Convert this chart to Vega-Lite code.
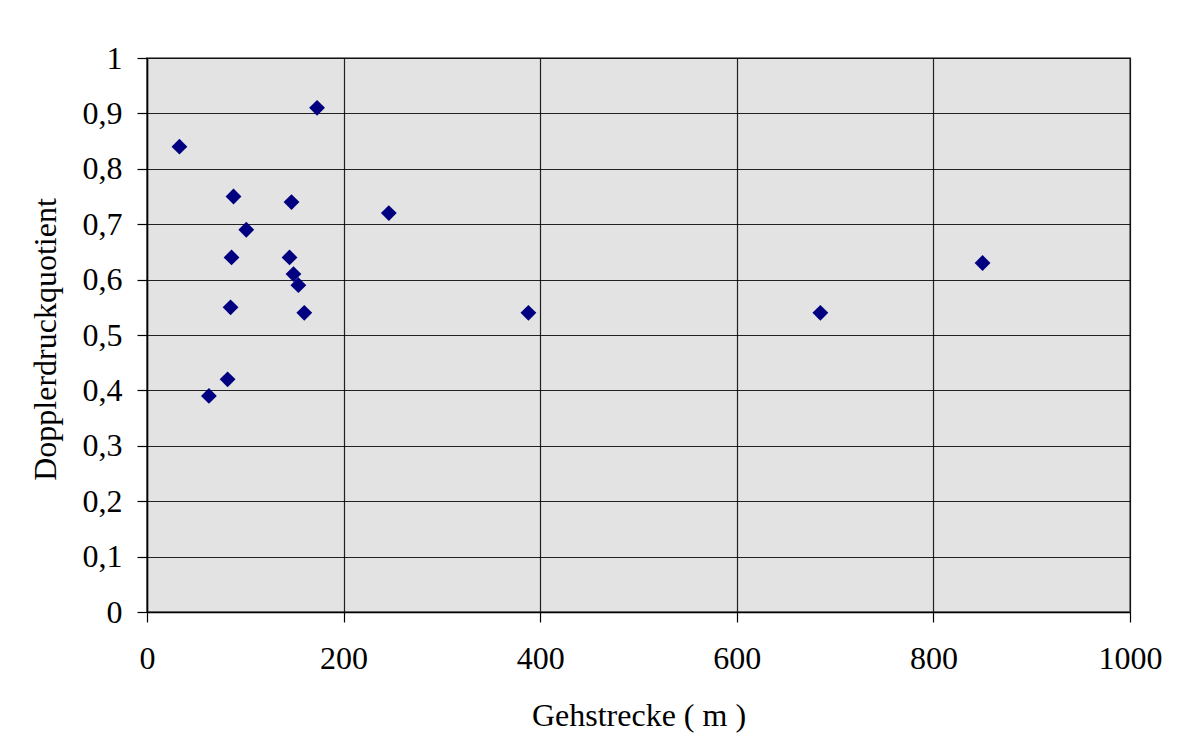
{
  "$schema": "https://vega.github.io/schema/vega-lite/v6.json",
  "autosize": {"type": "none"},
  "width": 983,
  "height": 554,
  "padding": {"left": 147, "top": 58, "right": 55, "bottom": 140},
  "background": "#ffffff",
  "config": {
    "font": "Liberation Serif",
    "view": {"fill": "#e3e3e3", "stroke": "#808080", "strokeWidth": 2},
    "axis": {
      "labelFont": "Liberation Serif",
      "titleFont": "Liberation Serif",
      "labelFontSize": 32,
      "titleFontSize": 32,
      "labelColor": "#000000",
      "titleColor": "#000000",
      "titleFontWeight": "normal",
      "domainColor": "#000000",
      "domainWidth": 1.5,
      "tickColor": "#000000",
      "tickSize": 10,
      "tickWidth": 1.2,
      "gridColor": "#000000",
      "gridOpacity": 0.85,
      "gridWidth": 1.2
    }
  },
  "data": {
    "values": [
      {"gehstrecke": 33, "quotient": 0.84},
      {"gehstrecke": 63, "quotient": 0.39},
      {"gehstrecke": 82, "quotient": 0.42},
      {"gehstrecke": 85, "quotient": 0.55},
      {"gehstrecke": 86, "quotient": 0.64},
      {"gehstrecke": 88, "quotient": 0.75},
      {"gehstrecke": 101, "quotient": 0.69},
      {"gehstrecke": 145, "quotient": 0.64},
      {"gehstrecke": 147, "quotient": 0.74},
      {"gehstrecke": 149, "quotient": 0.61},
      {"gehstrecke": 154, "quotient": 0.59},
      {"gehstrecke": 160, "quotient": 0.54},
      {"gehstrecke": 173, "quotient": 0.91},
      {"gehstrecke": 246, "quotient": 0.72},
      {"gehstrecke": 388, "quotient": 0.54},
      {"gehstrecke": 685, "quotient": 0.54},
      {"gehstrecke": 850, "quotient": 0.63}
    ]
  },
  "mark": {"type": "point", "shape": "diamond", "filled": true, "color": "#000080", "opacity": 1, "size": 250},
  "encoding": {
    "x": {
      "field": "gehstrecke",
      "type": "quantitative",
      "scale": {"domain": [0, 1000], "nice": false, "zero": true},
      "axis": {
        "title": "Gehstrecke ( m )",
        "values": [0, 200, 400, 600, 800, 1000],
        "format": "d",
        "labelBaseline": "alphabetic",
        "labelPadding": 46,
        "labelFlush": false,
        "titleBaseline": "alphabetic",
        "titleY": 113
      }
    },
    "y": {
      "field": "quotient",
      "type": "quantitative",
      "scale": {"domain": [0, 1], "nice": false},
      "axis": {
        "title": "Dopplerdruckquotient",
        "values": [0, 0.1, 0.2, 0.3, 0.4, 0.5, 0.6, 0.7, 0.8, 0.9, 1],
        "labelExpr": "replace(format(datum.value, '.1~f'), '.', ',')",
        "labelPadding": 15,
        "labelFlush": false,
        "titleBaseline": "alphabetic",
        "titleX": -92,
        "titleY": 281
      }
    }
  }
}
